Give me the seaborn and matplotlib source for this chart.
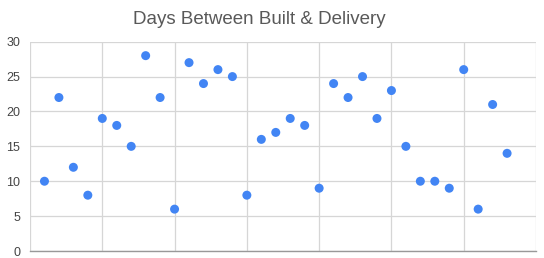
import matplotlib
matplotlib.use("Agg")
import matplotlib.pyplot as plt
import seaborn as sns
import pandas as pd

title = "Days Between Built & Delivery"
days = [10, 22, 12, 8, 19, 18, 15, 28, 22, 6, 27, 24, 26, 25, 8, 16, 17,
        19, 18, 9, 24, 22, 25, 19, 23, 15, 10, 10, 9, 26, 6, 21, 14]
index = list(range(1, len(days) + 1))
y_ticks = [0, 5, 10, 15, 20, 25, 30]
x_grid = [0, 5, 10, 15, 20, 25, 30, 35]

df = pd.DataFrame({"idx": index, "days": days})

sns.set_theme(style="white")
plt.rcParams["font.family"] = ["Liberation Sans", "DejaVu Sans"]

W, H = 544, 258
fig = plt.figure(figsize=(W / 100, H / 100), dpi=100)
ax = fig.add_axes([30 / W, 1 - 251 / H, 506 / W, 209.3 / H])

sns.scatterplot(data=df, x="idx", y="days", ax=ax, color="#4285f4",
                s=42, edgecolor="none", zorder=3, legend=False)

ax.set_xlim(0, 35)
ax.set_ylim(0, 30)
ax.set_xticks(x_grid)
ax.set_yticks(y_ticks)
ax.set_xticklabels([])
ax.set_yticklabels([str(t) for t in y_ticks], color="#444444", fontsize=9)
ax.tick_params(axis="both", length=0)
ax.tick_params(axis="y", pad=7)
ax.tick_params(axis="x", pad=0)
ax.grid(True, color="#d6d6d6", linewidth=0.9)
ax.set_axisbelow(True)
for side in ["top", "right", "left"]:
    ax.spines[side].set_visible(False)
ax.spines["bottom"].set_color("#999999")
ax.spines["bottom"].set_linewidth(1.0)
ax.set_xlabel("")
ax.set_ylabel("")

fig.text(259 / W, 1 - 20 / H, title, ha="center", va="center",
         fontsize=13.5, color="#595959")

fig.savefig("out.png", dpi=100)
